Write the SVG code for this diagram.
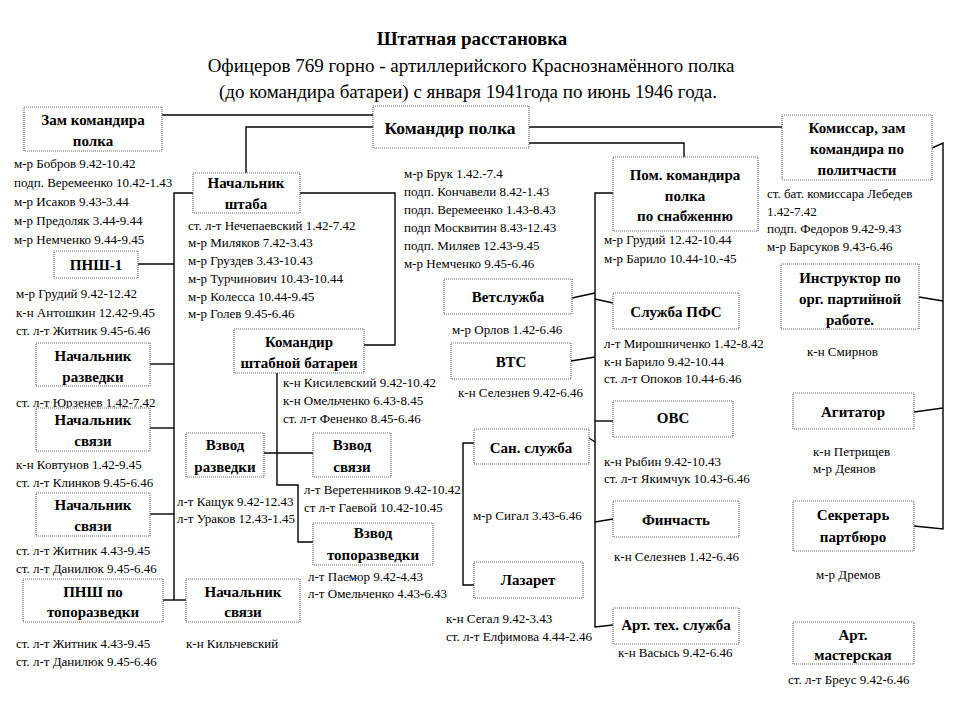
<svg xmlns="http://www.w3.org/2000/svg" width="960" height="719" viewBox="0 0 960 719">
<style>
.bx{fill:#fff;stroke:#666;stroke-width:1.2;stroke-dasharray:1 1}
.lb{font-weight:bold;font-size:15px;text-anchor:middle;fill:#000}
.tx{font-size:13px;fill:#000}
.ttl{text-anchor:middle;fill:#000}
#connectors path{fill:none;stroke:#000;stroke-width:1.4}
</style>
<rect width="960" height="719" fill="#fff"/>
<g font-family="Liberation Serif, DejaVu Serif, serif">
<g id="title">
<text class="ttl" x="472" y="45" font-size="19" font-weight="bold">Штатная расстановка</text>
<text class="ttl" x="471" y="72" font-size="19">Офицеров 769 горно - артиллерийского Краснознамённого полка</text>
<text class="ttl" x="468" y="98" font-size="19">(до командира батареи) с января 1941года по июнь 1946 года.</text>
</g>
<g id="connectors">
<path d="M162 115H373"/>
<path d="M529 127H782"/>
<path d="M373 127H246V173"/>
<path d="M529 143H684V157"/>
<path d="M193 193H174V600"/>
<path d="M138 264H174"/>
<path d="M150 364H174"/>
<path d="M150 428H174"/>
<path d="M150 514H174"/>
<path d="M163 600H186"/>
<path d="M300 193H395V345H364"/>
<path d="M277 373V485H298V542H313"/>
<path d="M264 453H313"/>
<path d="M474 443H463V585H474"/>
<path d="M613 193H595V627L613 625"/>
<path d="M572 298L595 293"/>
<path d="M595 299L613 303"/>
<path d="M571 361L595 357"/>
<path d="M595 421H613"/>
<path d="M589 438L595 442"/>
<path d="M595 522L613 519"/>
<path d="M932 148L943 143V529L914 526"/>
<path d="M919 297L943 301"/>
<path d="M914 412L943 408"/>
</g>
<g id="n-zam"><rect class="bx" x="24" y="107" width="138" height="44"/><text class="lb" x="93" y="125">Зам командира</text><text class="lb" x="93" y="146">полка</text>
<text class="tx" x="14" y="168">м-р Бобров 9.42-10.42</text><text class="tx" x="14" y="187">подп. Веремеенко 10.42-1.43</text><text class="tx" x="14" y="206">м-р Исаков 9.43-3.44</text><text class="tx" x="14" y="225">м-р Предоляк  3.44-9.44</text><text class="tx" x="14" y="244">м-р Немченко  9.44-9.45</text></g>
<g id="n-komandir"><rect class="bx" x="373" y="106" width="156" height="42"/><text class="lb" x="450" y="134" style="font-size:17.5px">Командир полка</text>
<text class="tx" x="404" y="178">м-р Брук 1.42.-7.4</text><text class="tx" x="404" y="196">подп.  Кончавели 8.42-1.43</text><text class="tx" x="404" y="214">подп.  Веремеенко 1.43-8.43</text><text class="tx" x="404" y="232">подп  Москвитин 8.43-12.43</text><text class="tx" x="404" y="250">подп. Миляев 12.43-9.45</text><text class="tx" x="404" y="268">м-р  Немченко 9.45-6.46</text></g>
<g id="n-komissar"><rect class="bx" x="782" y="115" width="150" height="65"/><text class="lb" x="857" y="133">Комиссар, зам</text><text class="lb" x="857" y="154">командира  по</text><text class="lb" x="857" y="175">политчасти</text>
<text class="tx" x="767" y="198">ст. бат. комиссара Лебедев</text><text class="tx" x="767" y="216">1.42-7.42</text><text class="tx" x="767" y="233">подп. Федоров 9.42-9.43</text><text class="tx" x="767" y="251">м-р Барсуков 9.43-6.46</text></g>
<g id="n-pom"><rect class="bx" x="613" y="157" width="145" height="74"/><text class="lb" x="685" y="180">Пом. командира</text><text class="lb" x="685" y="201">полка</text><text class="lb" x="685" y="221">по снабженню</text>
<text class="tx" x="604" y="244">м-р  Грудий   12.42-10.44</text><text class="tx" x="604" y="263">м-р  Барило   10.44-10.-45</text></g>
<g id="n-nsh"><rect class="bx" x="193" y="173" width="107" height="40"/><text class="lb" x="246" y="188">Начальник</text><text class="lb" x="246" y="209">штаба</text>
<text class="tx" x="188" y="230">ст. л-т Нечепаевский 1.42-7.42</text><text class="tx" x="188" y="247">м-р Миляков 7.42-3.43</text><text class="tx" x="188" y="265">м-р Груздев 3.43-10.43</text><text class="tx" x="188" y="283">м-р Турчинович 10.43-10.44</text><text class="tx" x="188" y="301">м-р Колесса 10.44-9.45</text><text class="tx" x="188" y="318">м-р Голев 9.45-6.46</text></g>
<g id="n-pnsh1"><rect class="bx" x="54" y="251" width="84" height="27"/><text class="lb" x="96" y="270">ПНШ-1</text>
<text class="tx" x="16" y="298">м-р Грудий 9.42-12.42</text><text class="tx" x="16" y="317">к-н Антошкин 12.42-9.45</text><text class="tx" x="16" y="335">ст. л-т Житник 9.45-6.46</text></g>
<g id="n-razv"><rect class="bx" x="36" y="343" width="114" height="43"/><text class="lb" x="93" y="361">Начальник</text><text class="lb" x="93" y="382">разведки</text>
<text class="tx" x="16" y="407">ст. л-т Юрзенев  1.42-7.42</text></g>
<g id="n-svyaz1"><rect class="bx" x="36" y="408" width="114" height="43"/><text class="lb" x="93" y="425">Начальник</text><text class="lb" x="93" y="446">связи</text>
<text class="tx" x="16" y="469">к-н Ковтунов 1.42-9.45</text><text class="tx" x="16" y="487">ст. л-т Клинков 9.45-6.46</text></g>
<g id="n-svyaz2"><rect class="bx" x="36" y="493" width="114" height="43"/><text class="lb" x="93" y="510">Начальник</text><text class="lb" x="93" y="531">связи</text>
<text class="tx" x="16" y="555">ст. л-т Житник 4.43-9.45</text><text class="tx" x="16" y="573">ст. л-т Данилюк  9.45-6.46</text></g>
<g id="n-pnshtopo"><rect class="bx" x="23" y="579" width="140" height="43"/><text class="lb" x="93" y="597">ПНШ по</text><text class="lb" x="93" y="617">топоразведки</text>
<text class="tx" x="16" y="648">ст. л-т Житник 4.43-9.45</text><text class="tx" x="16" y="666">ст. л-т Данилюк  9.45-6.46</text></g>
<g id="n-svyaz3"><rect class="bx" x="186" y="579" width="114" height="43"/><text class="lb" x="243" y="597">Начальник</text><text class="lb" x="243" y="617">связи</text>
<text class="tx" x="186" y="648">к-н Кильчевский</text></g>
<g id="n-shtbat"><rect class="bx" x="234" y="329" width="130" height="44"/><text class="lb" x="299" y="347">Командир</text><text class="lb" x="299" y="368">штабной батареи</text>
<text class="tx" x="283" y="387">к-н Кисилевский  9.42-10.42</text><text class="tx" x="283" y="405">к-н Омельченко 6.43-8.45</text><text class="tx" x="283" y="423">ст. л-т Фененко 8.45-6.46</text></g>
<g id="n-vzrazv"><rect class="bx" x="186" y="433" width="78" height="44"/><text class="lb" x="225" y="450">Взвод</text><text class="lb" x="225" y="472">разведки</text>
<text class="tx" x="177" y="506">л-т Кащук 9.42-12.43</text><text class="tx" x="177" y="523">л-т Ураков 12.43-1.45</text></g>
<g id="n-vzsvyaz"><rect class="bx" x="313" y="433" width="78" height="44"/><text class="lb" x="352" y="450">Взвод</text><text class="lb" x="352" y="472">связи</text>
<text class="tx" x="304" y="494">л-т Веретенников 9.42-10.42</text><text class="tx" x="304" y="512">ст л-т Гаевой 10.42-10.45</text></g>
<g id="n-vztopo"><rect class="bx" x="313" y="523" width="120" height="42"/><text class="lb" x="373" y="538">Взвод</text><text class="lb" x="373" y="560">топоразведки</text>
<text class="tx" x="308" y="581">л-т Пасмор 9.42-4.43</text><text class="tx" x="308" y="598">л-т Омельченко 4.43-6.43</text>
<path d="M346 578q3 -2 6 0t6 0" fill="none" stroke="#3355cc" stroke-width="1"/></g>
<g id="n-vet"><rect class="bx" x="444" y="279" width="128" height="35"/><text class="lb" x="508" y="302">Ветслужба</text>
<text class="tx" x="452" y="334">м-р  Орлов  1.42-6.46</text></g>
<g id="n-vts"><rect class="bx" x="451" y="343" width="120" height="36"/><text class="lb" x="511" y="367">ВТС</text>
<text class="tx" x="458" y="397">к-н Селезнев 9.42-6.46</text></g>
<g id="n-san"><rect class="bx" x="474" y="429" width="115" height="35"/><text class="lb" x="531" y="453">Сан. служба</text>
<text class="tx" x="473" y="520">м-р Сигал 3.43-6.46</text></g>
<g id="n-laz"><rect class="bx" x="474" y="562" width="109" height="36"/><text class="lb" x="528" y="585">Лазарет</text>
<text class="tx" x="446" y="623">к-н Сегал 9.42-3.43</text><text class="tx" x="446" y="641">ст. л-т Елфимова 4.44-2.46</text></g>
<g id="n-pfs"><rect class="bx" x="613" y="293" width="126" height="36"/><text class="lb" x="676" y="317">Служба ПФС</text>
<text class="tx" x="604" y="348">л-т Мирошниченко  1.42-8.42</text><text class="tx" x="604" y="366">к-н  Барило  9.42-10.44</text><text class="tx" x="604" y="383">ст. л-т Опоков 10.44-6.46</text></g>
<g id="n-ovs"><rect class="bx" x="613" y="401" width="120" height="36"/><text class="lb" x="673" y="423">ОВС</text>
<text class="tx" x="604" y="466">к-н Рыбин 9.42-10.43</text><text class="tx" x="604" y="483">ст. л-т Якимчук 10.43-6.46</text></g>
<g id="n-fin"><rect class="bx" x="613" y="501" width="126" height="36"/><text class="lb" x="676" y="525">Финчасть</text>
<text class="tx" x="614" y="561">к-н Селезнев 1.42-6.46</text></g>
<g id="n-arttex"><rect class="bx" x="613" y="608" width="126" height="36"/><text class="lb" x="676" y="630">Арт. тех. служба</text>
<text class="tx" x="618" y="657">к-н Васысь 9.42-6.46</text></g>
<g id="n-instr"><rect class="bx" x="781" y="264" width="138" height="65"/><text class="lb" x="850" y="283">Инструктор по</text><text class="lb" x="850" y="304">орг. партийной</text><text class="lb" x="850" y="325">работе.</text>
<text class="tx" x="807" y="356">к-н  Смирнов</text></g>
<g id="n-agit"><rect class="bx" x="793" y="393" width="121" height="36"/><text class="lb" x="853" y="417">Агитатор</text>
<text class="tx" x="813" y="456">к-н  Петрищев</text><text class="tx" x="813" y="473">м-р Деянов</text></g>
<g id="n-sekr"><rect class="bx" x="793" y="501" width="121" height="50"/><text class="lb" x="853" y="520">Секретарь</text><text class="lb" x="853" y="542">партбюро</text>
<text class="tx" x="816" y="579">м-р Дремов</text></g>
<g id="n-artmast"><rect class="bx" x="793" y="622" width="121" height="42"/><text class="lb" x="853" y="640">Арт.</text><text class="lb" x="853" y="660">мастерская</text>
<text class="tx" x="788" y="684">ст. л-т Бреус 9.42-6.46</text></g>
</g>
</svg>
